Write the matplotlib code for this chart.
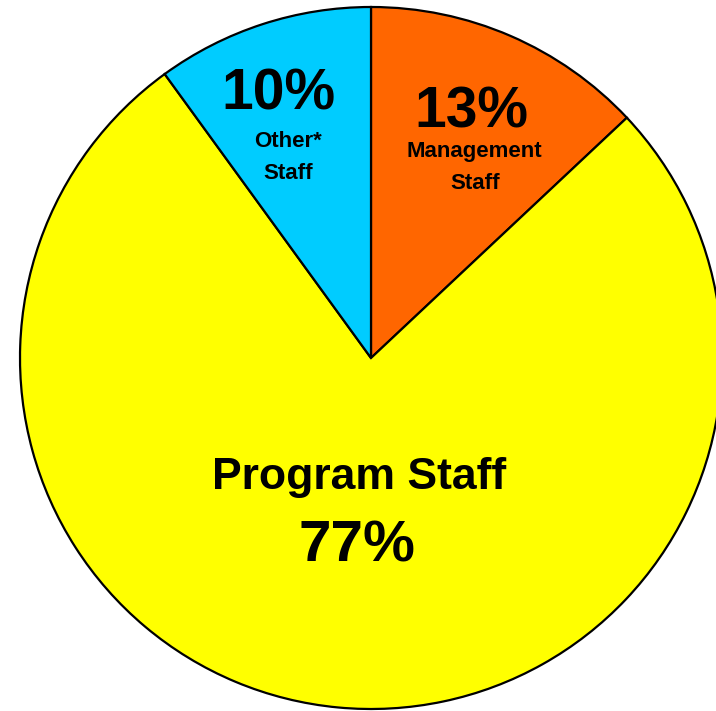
import matplotlib.pyplot as plt

# Staff composition
labels = ['Management\nStaff', 'Program Staff', 'Other*\nStaff']
shares = [13, 77, 10]
colors = ['#FF6600', '#FFFF00', '#00CCFF']

W, H = 716, 711
fig = plt.figure(figsize=(W / 100, H / 100), dpi=100)
ax = fig.add_axes([0, 0, 1, 1])

cx, cy, r = 371, H - 358, 351
ax.pie(shares, colors=colors, startangle=90, counterclock=False,
       center=(cx, cy), radius=r, frame=True,
       wedgeprops=dict(edgecolor='black', linewidth=1.6))
ax.set_xlim(0, W)
ax.set_ylim(0, H)
ax.set_aspect('equal')
ax.axis('off')

font = 'Liberation Sans'

def txt(x, y, s, size):
    ax.text(x, H - y, s, ha='center', va='center_baseline', fontsize=size,
            fontweight='bold', family=font)

txt(278, 89, f'{shares[2]}%', 41)
txt(288, 139, 'Other*', 16)
txt(288, 171, 'Staff', 16)
txt(471, 107, f'{shares[0]}%', 41)
txt(474, 149, 'Management', 16)
txt(475, 181, 'Staff', 16)
txt(359, 473, labels[1], 32)
txt(357, 540, f'{shares[1]}%', 42)

fig.savefig('out.png', dpi=100)
